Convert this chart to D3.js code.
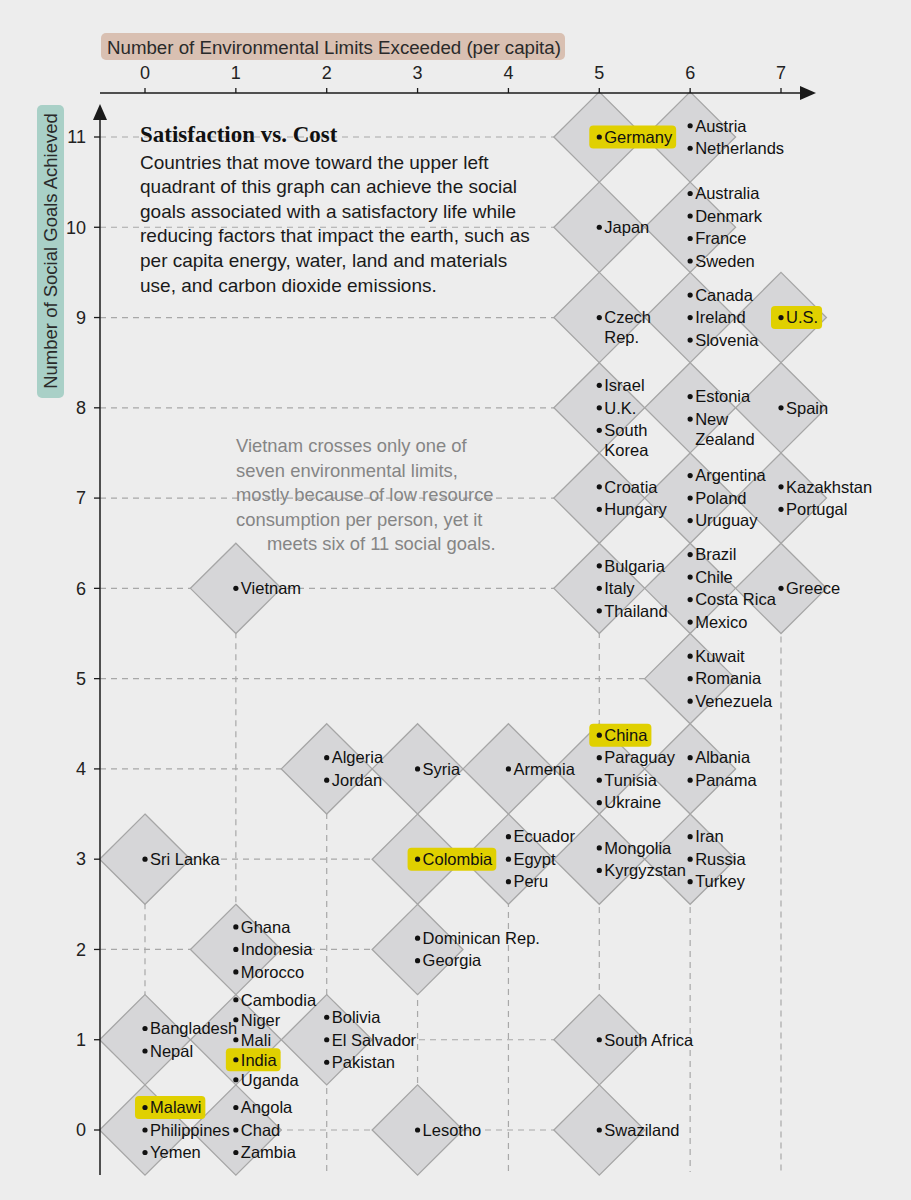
<!DOCTYPE html>
<html><head><meta charset="utf-8">
<script src="https://cdn.jsdelivr.net/npm/d3@7"></script>
<style>
body{margin:0;background:#ededed;}
svg{display:block;font-family:"Liberation Sans",Arial,sans-serif;}
</style></head><body>
<svg id="c" width="911" height="1200"></svg>
<script>
// Data: each cell = [environmental limits exceeded, social goals achieved, countries]
const xTicks = [0,1,2,3,4,5,6,7];
const yTicks = [0,1,2,3,4,5,6,7,8,9,10,11];
const cells = [
  [5,11,["Germany"]],
  [6,11,["Austria","Netherlands"]],
  [5,10,["Japan"]],
  [6,10,["Australia","Denmark","France","Sweden"]],
  [5,9,["Czech|Rep."]],
  [6,9,["Canada","Ireland","Slovenia"]],
  [7,9,["U.S."]],
  [5,8,["Israel","U.K.","South|Korea"]],
  [6,8,["Estonia","New|Zealand"]],
  [7,8,["Spain"]],
  [5,7,["Croatia","Hungary"]],
  [6,7,["Argentina","Poland","Uruguay"]],
  [7,7,["Kazakhstan","Portugal"]],
  [1,6,["Vietnam"]],
  [5,6,["Bulgaria","Italy","Thailand"]],
  [6,6,["Brazil","Chile","Costa Rica","Mexico"]],
  [7,6,["Greece"]],
  [6,5,["Kuwait","Romania","Venezuela"]],
  [2,4,["Algeria","Jordan"]],
  [3,4,["Syria"]],
  [4,4,["Armenia"]],
  [5,4,["China","Paraguay","Tunisia","Ukraine"]],
  [6,4,["Albania","Panama"]],
  [0,3,["Sri Lanka"]],
  [3,3,["Colombia"]],
  [4,3,["Ecuador","Egypt","Peru"]],
  [5,3,["Mongolia","Kyrgyzstan"]],
  [6,3,["Iran","Russia","Turkey"]],
  [1,2,["Ghana","Indonesia","Morocco"]],
  [3,2,["Dominican Rep.","Georgia"]],
  [0,1,["Bangladesh","Nepal"]],
  [1,1,["Cambodia","Niger","Mali","India","Uganda"]],
  [2,1,["Bolivia","El Salvador","Pakistan"]],
  [5,1,["South Africa"]],
  [0,0,["Malawi","Philippines","Yemen"]],
  [1,0,["Angola","Chad","Zambia"]],
  [3,0,["Lesotho"]],
  [5,0,["Swaziland"]]
];
const highlighted = ["Germany","U.S.","China","Colombia","India","Malawi"];
const xTitle = "Number of Environmental Limits Exceeded (per capita)";
const yTitle = "Number of Social Goals Achieved";
const title = "Satisfaction vs. Cost";
const introLines = [
  "Countries that move toward the upper left",
  "quadrant of this graph can achieve the social",
  "goals associated with a satisfactory life while",
  "reducing factors that impact the earth, such as",
  "per capita energy, water, land and materials",
  "use, and carbon dioxide emissions."
];
const noteLines = [
  "Vietnam crosses only one of",
  "seven environmental limits,",
  "mostly because of low resource",
  "consumption per person, yet it",
  "meets six of 11 social goals."
];

const svg = d3.select("#c");
const x = d3.scaleLinear().domain([0,7]).range([145,781]);
const y = d3.scaleLinear().domain([0,11]).range([1130,137]);
const hw = (x(1)-x(0))/2, hh = (y(0)-y(1))/2;
const axX = 100, axY = 93, bottom = 1172;
const labelSize = 16.5;

svg.append("rect").attr("width",911).attr("height",1200).attr("fill","#ededed");

// grid lines
const grid = svg.append("g").attr("stroke","#a8a8a8").attr("stroke-width",1.2).attr("stroke-dasharray","6,5").attr("fill","none");
yTicks.forEach(v=>{
  const row = cells.filter(c=>c[1]===v);
  if(!row.length) return;
  const mx = d3.max(row,c=>c[0]);
  grid.append("line").attr("x1",axX).attr("x2",x(mx)).attr("y1",y(v)).attr("y2",y(v));
});
xTicks.forEach(v=>{
  const col = cells.filter(c=>c[0]===v);
  if(!col.length) return;
  const my = d3.max(col,c=>c[1]);
  grid.append("line").attr("x1",x(v)).attr("x2",x(v)).attr("y1",y(my)).attr("y2",bottom);
});

// diamonds
const dpath = c => `M${x(c[0])},${y(c[1])-hh}L${x(c[0])+hw},${y(c[1])}L${x(c[0])},${y(c[1])+hh}L${x(c[0])-hw},${y(c[1])}Z`;
svg.append("g").selectAll("path").data(cells).join("path").attr("d",dpath).attr("fill","#d6d6d8").attr("stroke","none");
svg.append("g").selectAll("path").data(cells).join("path").attr("d",dpath).attr("fill","none").attr("stroke","#a6a6a6").attr("stroke-width",1.3);

// labels
const lab = svg.append("g").attr("font-size",labelSize).attr("fill","#111");
cells.forEach(c=>{
  const names = c[2], n = names.length;
  const sp = n>=5 ? 20 : 22.5;
  names.forEach((nm,i)=>{
    const cx = x(c[0]), cy = y(c[1]) + (i-(n-1)/2)*sp;
    const parts = nm.split("|");
    const g = lab.append("g");
    if(highlighted.includes(nm)){
      const tmp = g.append("text").attr("font-size",labelSize).text(parts[0]);
      const w = tmp.node().getComputedTextLength(); tmp.remove();
      g.append("rect").attr("x",cx-10).attr("y",cy-11.5).attr("width",w+19).attr("height",23).attr("rx",4).attr("fill","#e0d000");
    }
    g.append("circle").attr("cx",cx).attr("cy",cy).attr("r",2.6).attr("fill","#111");
    parts.forEach((p,j)=>{
      g.append("text").attr("x",cx+5).attr("y",cy+j*20).attr("dy","0.35em").text(p);
    });
  });
});

// x axis
svg.append("line").attr("x1",axX).attr("x2",802).attr("y1",axY).attr("y2",axY).attr("stroke","#1a1a1a").attr("stroke-width",1.5);
svg.append("path").attr("d",`M800,${axY-7}L816,${axY}L800,${axY+7}Z`).attr("fill","#1a1a1a");
const xa = svg.append("g");
xTicks.forEach(v=>{
  xa.append("line").attr("x1",x(v)).attr("x2",x(v)).attr("y1",axY-5).attr("y2",axY).attr("stroke","#1a1a1a").attr("stroke-width",1.3);
  xa.append("text").attr("x",x(v)).attr("y",73).attr("dy","0.35em").attr("text-anchor","middle").attr("font-size",18).attr("fill","#222").text(v);
});
svg.append("rect").attr("x",101).attr("y",33).attr("width",464).attr("height",27).attr("rx",5).attr("fill","#d9c0b2");
svg.append("text").attr("x",107).attr("y",47).attr("dy","0.35em").attr("font-size",18.7).attr("fill","#2a2a2a").text(xTitle);

// y axis
svg.append("line").attr("x1",axX).attr("x2",axX).attr("y1",112).attr("y2",bottom+3).attr("stroke","#1a1a1a").attr("stroke-width",1.5);
svg.append("path").attr("d",`M${axX-7},120L${axX},104L${axX+7},120Z`).attr("fill","#1a1a1a");
const ya = svg.append("g");
yTicks.forEach(v=>{
  ya.append("line").attr("x1",axX-6).attr("x2",axX).attr("y1",y(v)).attr("y2",y(v)).attr("stroke","#1a1a1a").attr("stroke-width",1.3);
  ya.append("text").attr("x",86).attr("y",y(v)).attr("dy","0.35em").attr("text-anchor","end").attr("font-size",18).attr("fill","#222").text(v);
});
svg.append("rect").attr("x",37).attr("y",105).attr("width",27).attr("height",293).attr("rx",5).attr("fill","#a9d0c7");
svg.append("text").attr("transform","translate(51,251) rotate(-90)").attr("dy","0.35em").attr("text-anchor","middle").attr("font-size",18.5).attr("fill","#2a2a2a").text(yTitle);

// title + intro
svg.append("text").attr("x",140).attr("y",142).attr("font-family","'Liberation Serif','Times New Roman',serif").attr("font-weight","bold").attr("font-size",23).attr("fill","#111").text(title);
const intro = svg.append("g").attr("font-size",19).attr("fill","#1a1a1a");
introLines.forEach((t,i)=>intro.append("text").attr("x",140).attr("y",162+i*24.6).attr("dy","0.35em").text(t));

// Vietnam note
const note = svg.append("g").attr("font-size",18.4).attr("fill","#858585");
noteLines.forEach((t,i)=>note.append("text").attr("x",i===4?267:236).attr("y",446+i*24.5).attr("dy","0.35em").text(t));
</script>
</body></html>
